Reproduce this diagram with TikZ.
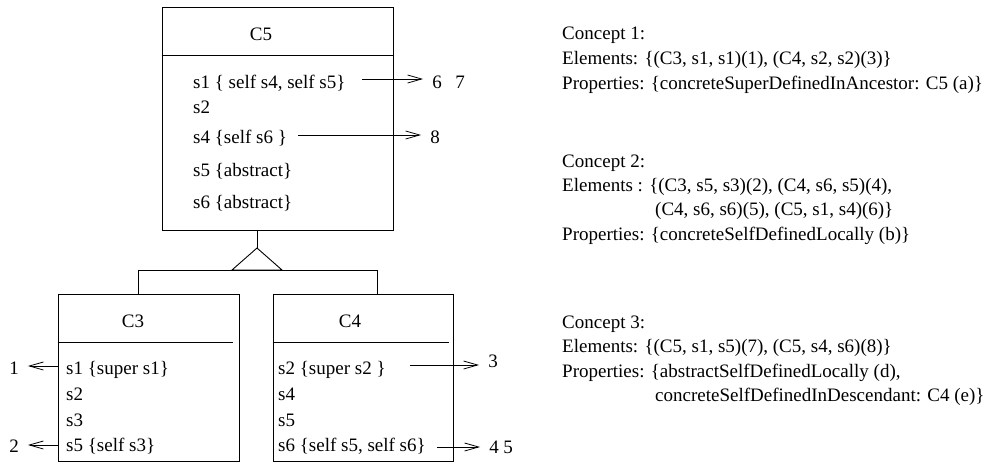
\documentclass[tikz,border=0pt]{standalone}
\usepackage{fontspec}
\setmainfont{Liberation Serif}
\usetikzlibrary{arrows.meta}
\begin{document}
\begin{tikzpicture}[x=1pt,y=-1pt,
  every node/.style={font=\fontsize{19}{23}\selectfont, inner sep=0pt},
  classbox/.style={draw, line width=0.9pt, inner sep=0pt},
  row/.style={anchor=base west},
  num/.style={anchor=base},
  title/.style={anchor=base},
  ref/.style={line width=0.8pt, shorten >=9pt,
    -{Straight Barb[length=14pt,width=8pt,line width=0.8pt]}},
  lnk/.style={line width=0.9pt}]
\useasboundingbox (0,0) rectangle (987,464);

% ---- class C5 ----
\node[classbox, minimum width=231pt, minimum height=223pt] (c5) at (277.5,118.5) {};
\draw[lnk] (c5.west |- 0,55) -- (c5.east |- 0,55);
\node[title] (c5t) at (261,40) {C5};
\node[row] (c5s1) at (193,88)  {s1 \{ self s4, self s5\}};
\node[row] (c5s2) at (193,113) {s2};
\node[row] (c5s4) at (193,143) {s4 \{self s6 \}};
\node[row] (c5s5) at (193,176) {s5 \{abstract\}};
\node[row] (c5s6) at (193,208) {s6 \{abstract\}};
\node[num] (n6) at (437,88) {6};
\node[num] (n7) at (460,88) {7};
\node[num] (n8) at (435,143) {8};
\coordinate (a6) at (362,79);
\coordinate (a8) at (298,135);
\draw[ref] (a6) -- (a6 -| n6.west);
\draw[ref] (a8) -- (a8 -| n8.west);

% ---- class C3 ----
\node[classbox, minimum width=181pt, minimum height=167pt] (c3) at (148.5,377.5) {};
\draw[lnk] (c3.west |- 0,342) -- (233,342);
\node[title] (c3t) at (133,327) {C3};
\node[row] (c3s1) at (66,374) {s1 \{super s1\}};
\node[row] (c3s2) at (66,400) {s2};
\node[row] (c3s3) at (66,426) {s3};
\node[row] (c3s5) at (66,451) {s5 \{self s3\}};
\node[num] (n1) at (14,374) {1};
\node[num] (n2) at (14,452) {2};
\coordinate (a1) at (58,366);
\coordinate (a2) at (58,445);
\draw[ref] (a1) -- (a1 -| n1.east);
\draw[ref] (a2) -- (a2 -| n2.east);

% ---- class C4 ----
\node[classbox, minimum width=180pt, minimum height=167pt] (c4) at (363,377.5) {};
\draw[lnk] (c4.west |- 0,342) -- (449,342);
\node[title] (c4t) at (350,327) {C4};
\node[row] (c4s2) at (278,374) {s2 \{super s2 \}};
\node[row] (c4s4) at (278,400) {s4};
\node[row] (c4s5) at (278,426) {s5};
\node[row] (c4s6) at (278,451) {s6 \{self s5, self s6\}};
\node[num] (n3) at (493,367) {3};
\node[num] (n4) at (494,453) {4};
\node[num] (n5) at (508,453) {5};
\coordinate (a3) at (410,365);
\coordinate (a4) at (437,447);
\draw[ref] (a3) -- (a3 -| n3.west);
\draw[ref] (a4) -- (a4 -| n4.west);

% ---- generalisation: C3 and C4 inherit from C5 ----
\coordinate (apex) at (257,248);
\coordinate (j3) at (138,270);
\coordinate (j4) at (377,270);
\draw[lnk] (apex |- c5.south) -- (apex);
\draw[lnk] (apex) -- (232,270) -- (282,270) -- cycle;
\draw[lnk] (j3 |- c3.north) -- (j3) -- (j4) -- (j4 |- c4.north);

% ---- concept descriptions ----
\node[row] (k1) at (562,39) {Concept 1:};
\node[row] (k1e) at (562,64) {Elements: \{(C3, s1, s1)(1), (C4, s2, s2)(3)\}};
\node[row] (k1p) at (562,89) {Properties: \{concreteSuperDefinedInAncestor: C5 (a)\}};

\node[row] (k2) at (562,167) {Concept 2:};
\node[row] (k2e) at (562,191) {Elements : \{(C3, s5, s3)(2), (C4, s6, s5)(4),};
\node[row] (k2e2) at (655,215) {(C4, s6, s6)(5), (C5, s1, s4)(6)\}};
\node[row] (k2p) at (562,240) {Properties: \{concreteSelfDefinedLocally (b)\}};

\node[row] (k3) at (562,328) {Concept 3:};
\node[row] (k3e) at (562,352) {Elements: \{(C5, s1, s5)(7), (C5, s4, s6)(8)\}};
\node[row] (k3p) at (562,377) {Properties: \{abstractSelfDefinedLocally (d),};
\node[row] (k3p2) at (655,401) {concreteSelfDefinedInDescendant: C4 (e)\}};
\end{tikzpicture}
\end{document}
